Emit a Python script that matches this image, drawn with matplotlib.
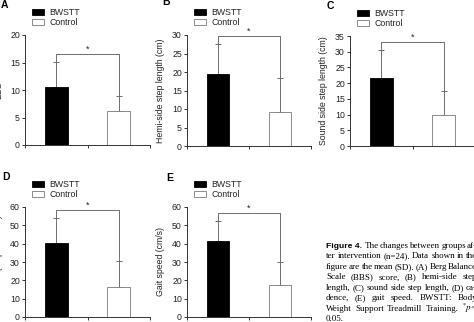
import matplotlib
matplotlib.use('Agg')
import matplotlib.pyplot as plt
from matplotlib.patches import Patch

# ---- data ----
groups = ['BWSTT', 'Control']
panel_letters = ['A', 'B', 'C', 'D', 'E']
ylabels = ['BBS', 'Hemi-side step length (cm)', 'Sound side step length (cm)',
           'Cadence (steps/minute)', 'Gait speed (cm/s)']
bwstt_mean = [10.5, 19.5, 21.6, 40.3, 41.5]
bwstt_sd = [4.6, 8.2, 9.0, 13.7, 10.7]
control_mean = [6.1, 9.1, 9.8, 16.5, 17.5]
control_sd = [2.9, 9.4, 7.7, 14.2, 12.3]
ymax = [20, 30, 35, 60, 60]
ystep = [5, 5, 5, 10, 10]
bracket_y = [16.5, 29.8, 33.1, 58.4, 56.7]
sig_mark = '*'

caption_lines = [
    "The changes between groups af-",
    "ter intervention (n=24). Data shown in the",
    "figure are the mean (SD). (A) Berg Balance",
    "Scale (BBS) score, (B) hemi-side step",
    "length, (C) sound side step length, (D) ca-",
    "dence, (E) gait speed. BWSTT: Body",
    "Weight Support Treadmill Training. $^{*}p$<",
    "0.05.",
]
caption_title = "Figure 4."

# ---- layout (pixels) ----
W, H = 474, 322
fig = plt.figure(figsize=(W / 100, H / 100), dpi=100)
plt.rcParams['mathtext.fontset'] = 'stix'

boxes = [(25, 150, 35, 145), (187, 311, 35, 146), (350, 475, 36, 146),
         (25, 150, 207, 317), (187, 311, 207, 317)]
letter_pos = [(1, 5), (162, 2), (327, 6), (2, 177), (166, 178)]

def fx(x):
    return x / W

def fy(y):
    return 1 - y / H

sans = 'Liberation Sans'
serif = 'Liberation Serif'
axis_col = '#333333'
err_col = '#6e6e6e'

for i in range(5):
    l, r, t, b = boxes[i]
    ax = fig.add_axes([fx(l), fy(b), (r - l) / W, (b - t) / H])
    x = [0.5, 1.5]
    means = [bwstt_mean[i], control_mean[i]]
    sds = [bwstt_sd[i], control_sd[i]]
    ax.bar(x[0], means[0], width=0.37, color='black', edgecolor='black', linewidth=0.6,
           label=groups[0], zorder=3)
    ax.bar(x[1], means[1], width=0.37, color='white', edgecolor='#7a7a7a', linewidth=0.6,
           label=groups[1], zorder=3)
    ax.errorbar(x, means, yerr=[[0, 0], sds], fmt='none', ecolor=err_col,
                elinewidth=0.7, capsize=2.2, capthick=0.7, zorder=2)
    # significance bracket
    by = bracket_y[i]
    tops = [means[0] + sds[0], means[1] + sds[1]]
    ax.plot([x[0], x[0], x[1], x[1]], [tops[0], by, by, tops[1]], color=err_col,
            lw=0.7, zorder=2, clip_on=False)
    ax.annotate(sig_mark, xy=(1.0, by), xytext=(0, 0.3), textcoords='offset points',
                ha='center', va='bottom', fontsize=6.5, family=sans, color='#222222')

    ax.set_xlim(0, 2)
    ax.set_ylim(0, ymax[i])
    ax.set_yticks(list(range(0, ymax[i] + 1, ystep[i])))
    ax.set_xticks([0, 1, 2])
    ax.set_xticklabels([])
    for s in ['top', 'right']:
        ax.spines[s].set_visible(False)
    for s in ['left', 'bottom']:
        ax.spines[s].set_color(axis_col)
        ax.spines[s].set_linewidth(0.7)
    ax.tick_params(axis='both', direction='out', length=2.5, width=0.7, color=axis_col,
                   labelsize=6.3, pad=1.2, labelcolor='#222222')
    for lab in ax.get_yticklabels():
        lab.set_family(sans)
    ax.set_ylabel(ylabels[i], fontsize=6.3, family=sans, color='#222222')
    ax.yaxis.set_label_coords(-22 / (r - l), 0.5)
    ax.set_facecolor('none')

    handles = [Patch(facecolor='black', edgecolor='black', linewidth=0.6),
               Patch(facecolor='white', edgecolor='#7a7a7a', linewidth=0.6)]
    leg = ax.legend(handles, groups, loc='upper left',
                    bbox_to_anchor=(7 / (r - l), 1 + 27 / (b - t)),
                    frameon=False, handlelength=1.35, handleheight=0.7,
                    handletextpad=0.6, labelspacing=0.15, borderpad=0, borderaxespad=0,
                    prop={'family': sans, 'size': 6.3})
    for tx in leg.get_texts():
        tx.set_color('#222222')

    lx, ly = letter_pos[i]
    fig.text(fx(lx), fy(ly), panel_letters[i], fontsize=7.5, fontweight='bold',
             family=sans, ha='left', va='center')

# ---- caption (justified) ----
cx0 = 326
cx1 = 477
line0_y = 246
dy = 10.45
fs = 6.5
fig.canvas.draw()
rend = fig.canvas.get_renderer()

def width_px(t):
    return t.get_window_extent(renderer=rend).width

for k, line in enumerate(caption_lines):
    y = fy(line0_y + k * dy)
    words = line.split(' ')
    start = cx0
    if k == 0:
        tt = fig.text(fx(cx0), y, caption_title, fontsize=fs - 0.4, family=sans,
                      fontweight='bold', ha='left', va='center')
        start = cx0 + width_px(tt) + 2.5
    arts = [fig.text(0, y, w, fontsize=fs, family=serif, ha='left', va='center')
            for w in words]
    widths = [width_px(a) for a in arts]
    if k < len(caption_lines) - 1 and len(words) > 1:
        gap = (cx1 - start - sum(widths)) / (len(words) - 1)
        gap = max(gap, 1.2)
    else:
        gap = 1.8
    xpos = start
    for a, w in zip(arts, widths):
        a.set_x(fx(xpos))
        xpos += w + gap

fig.savefig('out.png', dpi=100)
